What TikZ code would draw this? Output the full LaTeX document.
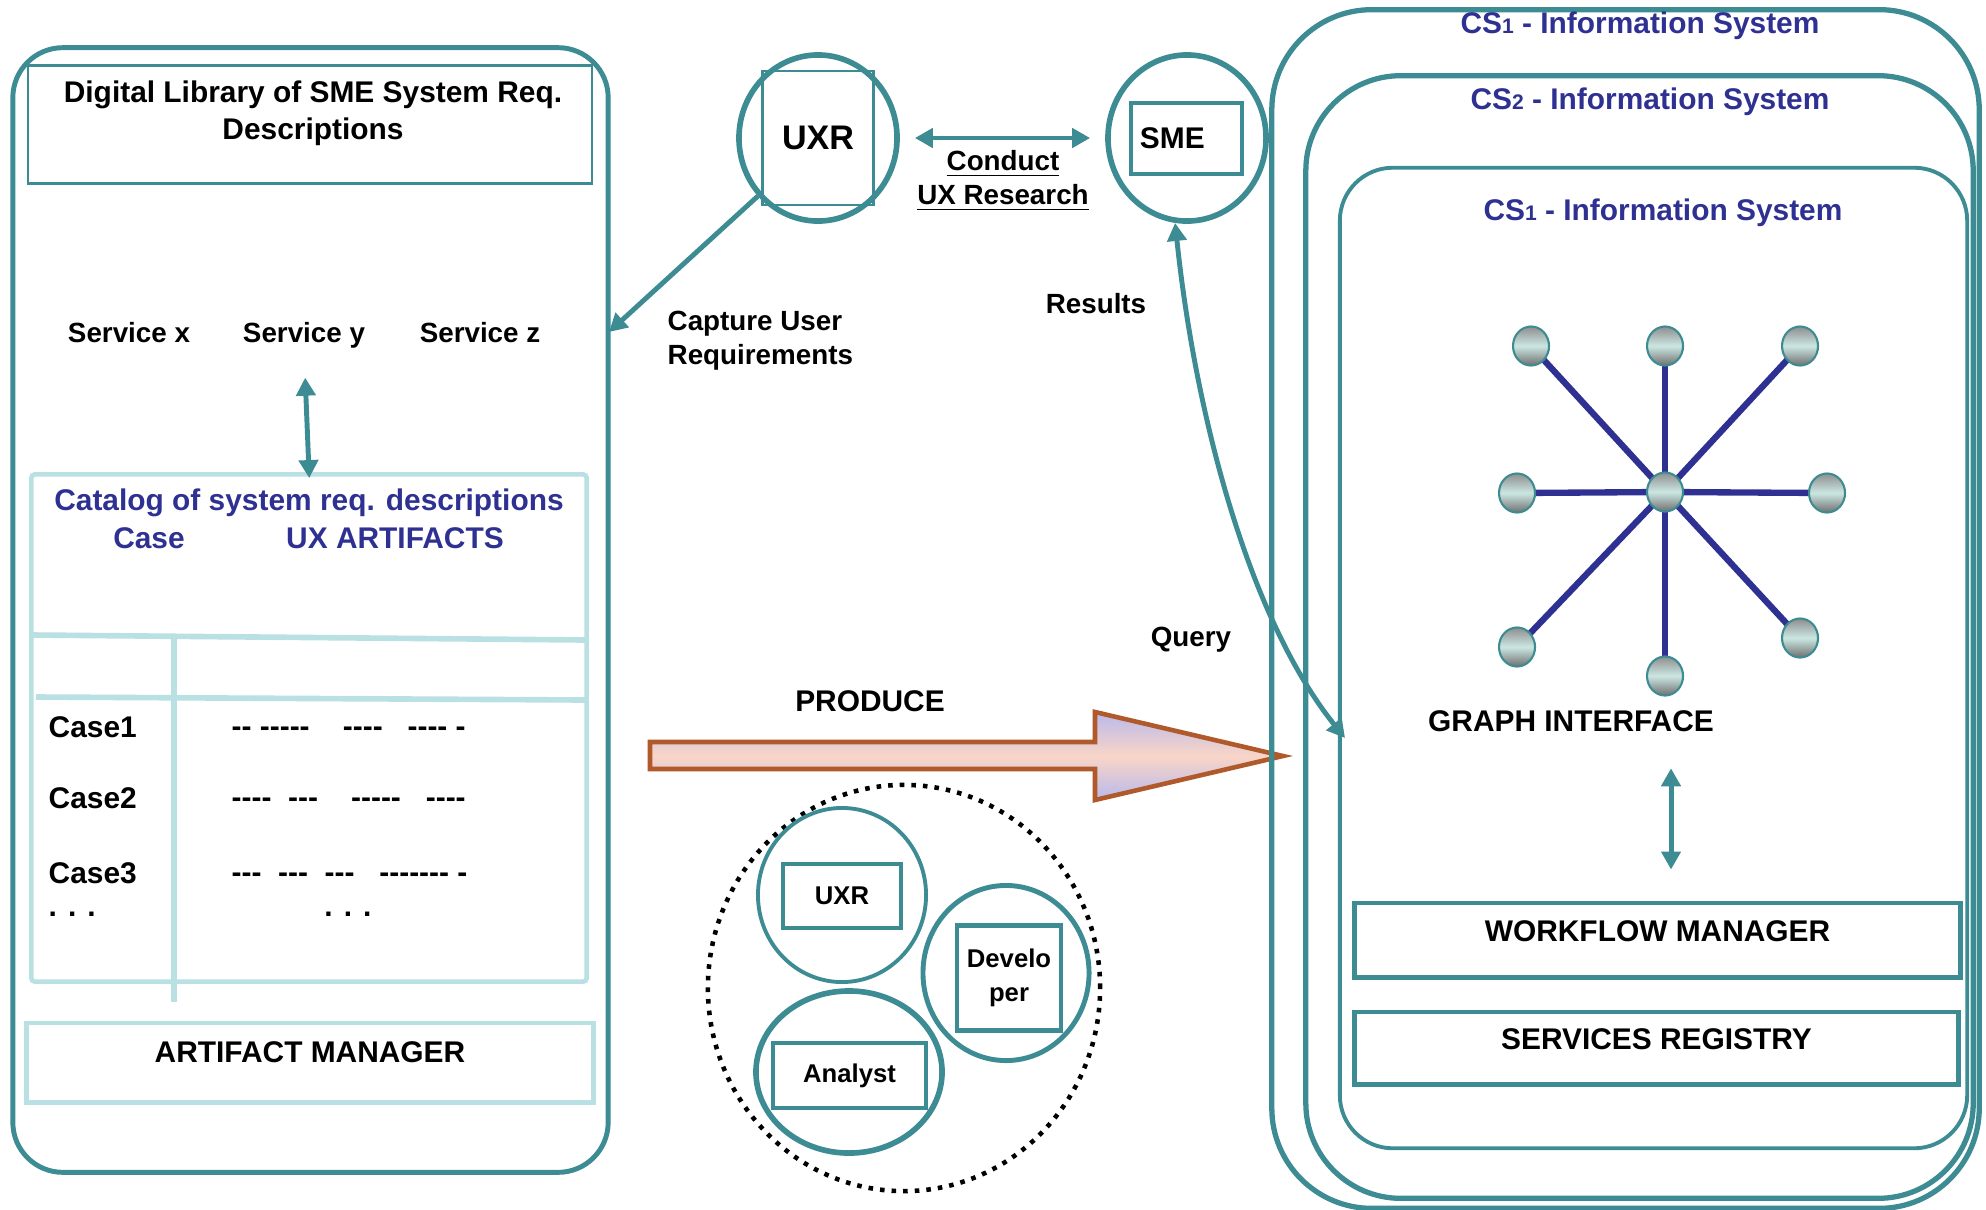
\documentclass[tikz,border=0pt]{standalone}
\usepackage{fontspec}
\setmainfont{Liberation Sans}
\usepackage{tikz}
\usetikzlibrary{positioning,arrows.meta,shapes.geometric,backgrounds}
\definecolor{tealc}{HTML}{3E8C93}
\definecolor{lightc}{HTML}{B9E0E3}
\definecolor{navyc}{HTML}{2E3192}
\definecolor{rustc}{HTML}{B0592A}
\definecolor{peachc}{HTML}{F9D5C7}
\definecolor{lavc}{HTML}{B9B9EC}
\definecolor{knobtop}{HTML}{8E8E8E}
\definecolor{knobmid}{HTML}{CBE7E2}
\definecolor{knobbot}{HTML}{6F6F6F}
\newcommand{\boxfont}{\fontsize{8.5}{10.5}\selectfont\bfseries}
\newcommand{\lblfont}{\fontsize{7.9}{9.7}\selectfont\bfseries}
\newcommand{\teamfont}{\fontsize{7.3}{9.7}\selectfont\bfseries}
\newcommand{\uxrfont}{\fontsize{9.7}{11}\selectfont\bfseries}
\newcommand{\dashrun}[1]{\foreach \n in {1,...,#1}{-\kern0pt}}
\newcommand{\csone}{CS{\fontsize{6}{6}\selectfont 1}}
\newcommand{\cstwo}{CS{\fontsize{6}{6}\selectfont 2}}
\tikzset{
  libframe/.style={draw=tealc, line width=1.4pt, rounded corners=0.5cm},
  sysframe/.style={draw=tealc, line width=1.5pt},
  plainbox/.style={draw=tealc, line width=0.7pt},
  catbox/.style={draw=lightc, line width=1.3pt, rounded corners=1pt},
  tablerule/.style={draw=lightc, line width=1.6pt},
  artbox/.style={draw=lightc, line width=1.4pt, font=\boxfont, text depth=6pt},
  mgrbox/.style={draw=tealc, line width=1.4pt, font=\boxfont, text depth=5pt},
  txt/.style={font=\boxfont, inner sep=0pt, align=center},
  bluetxt/.style={txt, text=navyc},
  lbl/.style={font=\lblfont, inner sep=0pt, align=center},
  ring/.style={ellipse, draw=tealc, line width=1.5pt, inner sep=0pt},
  role/.style={draw=tealc, line width=1.2pt, font=\teamfont, align=center, inner sep=0pt},
  crew/.style={ellipse, draw=black, line width=1.3pt, dotted},
  knob/.style={ellipse, draw=tealc, line width=0.6pt, inner sep=0pt,
               minimum width=0.36cm, minimum height=0.39cm,
               top color=knobtop, bottom color=knobbot, middle color=knobmid},
  spoke/.style={draw=navyc, line width=1.8pt},
  tarr/.style={{Triangle[length=1.8mm,width=1.9mm]}-{Triangle[length=1.8mm,width=1.9mm]},
               draw=tealc, line width=1.4pt},
  onearr/.style={-{Triangle[length=1.8mm,width=1.9mm]}, draw=tealc, line width=1.4pt},
  bigarrow/.style={draw=rustc, line width=1.3pt, line join=miter,
                   top color=lavc, bottom color=lavc, middle color=peachc},
}
\begin{document}
\begin{tikzpicture}[x=0.01cm, y=-0.01cm]
  \useasboundingbox (0,0) rectangle (1986,1209);
  \node[libframe, minimum width=5.95cm, minimum height=11.24cm] (lib) at (310.5,610) {};
  \node[plainbox, minimum width=5.64cm, minimum height=1.18cm] (desc) at (310,124.5) {};
  \node[txt] (desctxt) at (313,113) {Digital Library of SME System Req.\\Descriptions};
  \node[lbl] (svcx) at (129,333) {Service x};
  \node[lbl] (svcy) at (304,335) {Service y};
  \node[lbl] (svcz) at (480,333) {Service z};
  \node[catbox, minimum width=5.55cm, minimum height=5.07cm] (cat) at (309,728) {};
  \node[bluetxt] (cattitle) at (309,503) {Catalog of system req. descriptions};
  \node[bluetxt] (casehead) at (149,538) {Case};
  \node[bluetxt] (uxhead) at (395,538) {UX ARTIFACTS};
  \draw[tablerule] (32,635) -- (586,640);
  \draw[tablerule] (36,697) -- (586,700);
  \draw[tablerule] (174,637) -- (174,1002);
  \node[txt, anchor=west] (case1) at (48,727) {Case1};
  \node[txt, anchor=west] (case2) at (48,798) {Case2};
  \node[txt, anchor=west] (case3) at (48,873) {Case3};
  \node[txt, anchor=west] (moreleft) at (48,914) {. . .};
  \node[txt, anchor=west] (row1) at (231,732) {\dashrun{2}~\dashrun{5}~~~~\dashrun{4}~~~\dashrun{4}~\dashrun{1}};
  \node[txt, anchor=west] (row2) at (231,803) {\dashrun{4}~~\dashrun{3}~~~~\dashrun{5}~~~\dashrun{4}};
  \node[txt, anchor=west] (row3) at (231,878) {\dashrun{3}~~\dashrun{3}~~\dashrun{3}~~~\dashrun{7}~\dashrun{1}};
  \node[txt] (moreright) at (348,914) {. . .};
  \node[artbox, minimum width=5.66cm, minimum height=0.79cm] (artmgr) at (310,1062.5) {ARTIFACT MANAGER};
  \draw[tarr, shorten <=2.9mm, shorten >=-0.6mm] (svcy.south) -- (cat.north);

  \node[role, minimum width=1.11cm, minimum height=1.34cm, line width=0.7pt, font=\uxrfont] (uxrbox) at (818,138) {UXR};
  \node[ring, minimum width=1.58cm, minimum height=1.66cm, line width=1.6pt] (uxr) at (818,138) {};
  \node[role, font=\boxfont, text width=0.93cm, inner xsep=0.09cm, align=left,
        minimum height=0.71cm, line width=0.9pt] (smebox) at (1186.5,138.5) {SME};
  \node[ring, minimum width=1.58cm, minimum height=1.66cm, line width=1.6pt] (sme) at (1187,138) {};
  \draw[tarr, shorten <=1.5mm, shorten >=1.5mm] (uxr) -- (sme);
  \node[lbl] (conduct) at (1003,181) {\underline{Conduct}\\\underline{UX Research}};
  \node[lbl, anchor=west, align=left] (capture) at (667,341) {Capture User\\Requirements};
  \coordinate (capin) at (609,332);
  \draw[onearr] (uxr.224) -- (capin);
  \node[lbl] (results) at (1096,304) {Results};
  \node[lbl] (query) at (1191,640) {Query};
  \coordinate (qend) at (1345,738);
  \draw[tarr] (sme.262) .. controls +(21,199) and +(-94,-117) .. (qend);

  \node[txt] (producelbl) at (870,701) {PRODUCE};
  \draw[bigarrow] (650,742) -- (1095,742) -- (1095,712) -- (1283,756) -- (1095,800) -- (1095,769) -- (650,769) -- cycle;
  \node[crew, minimum width=3.92cm, minimum height=4.06cm] (team) at (904,988) {};
  \node[role, minimum width=1.18cm, minimum height=0.64cm] (uxrrole) at (842,896) {UXR};
  \node[ring, line width=1.1pt, minimum width=1.68cm, minimum height=1.74cm] (uxrring) at (842,895) {};
  \node[role, minimum width=1.04cm, minimum height=1.05cm] (devrole) at (1009,978) {Develo\\per};
  \node[ring, line width=1.4pt, minimum width=1.66cm, minimum height=1.75cm] (devring) at (1006,973) {};
  \node[role, minimum width=1.53cm, minimum height=0.65cm] (anarole) at (849.5,1075.5) {Analyst};
  \node[ring, line width=1.6pt, minimum width=1.86cm, minimum height=1.62cm] (anaring) at (849,1072) {};

  \node[sysframe, rounded corners=1cm, minimum width=7.07cm, minimum height=11.98cm] (sysa) at (1625.5,609) {};
  \node[sysframe, rounded corners=0.95cm, minimum width=6.67cm, minimum height=11.22cm] (sysb) at (1639.5,637) {};
  \node[sysframe, line width=1.1pt, rounded corners=0.53cm, minimum width=6.27cm, minimum height=9.8cm] (sysc) at (1653.5,658) {};
  \node[bluetxt] (sysatitle) at (1640,26) {\csone{} - Information System};
  \node[bluetxt] (sysbtitle) at (1650,102) {\cstwo{} - Information System};
  \node[bluetxt] (sysctitle) at (1663,213) {\csone{} - Information System};
  \foreach \kn/\kx/\ky in {ktl/1531/346, ktm/1665/346, ktr/1800/346, kml/1517/493,
                           kmr/1827/493, kbl/1517/647, kbm/1665/676, kbr/1800/638}
    \node[knob] (\kn) at (\kx,\ky) {};
  \node[knob] (hub) at (1665,492) {};
  \begin{scope}[on background layer]
    \foreach \kn in {ktl,ktm,ktr,kml,kmr,kbl,kbm,kbr}
      \draw[spoke] (hub.center) -- (\kn.center);
  \end{scope}
  \node[txt] (gi) at (1571,721) {GRAPH INTERFACE};
  \node[mgrbox, minimum width=6.05cm, minimum height=0.74cm] (wf) at (1657.5,940) {WORKFLOW MANAGER};
  \node[mgrbox, minimum width=6.03cm, minimum height=0.72cm] (reg) at (1656.5,1048) {SERVICES REGISTRY};
  \draw[tarr, shorten <=3.6mm, shorten >=3.1mm] ([xshift=0.06cm]gi.south -| hub) -- ([xshift=0.06cm]wf.north -| hub);
\end{tikzpicture}
\end{document}
